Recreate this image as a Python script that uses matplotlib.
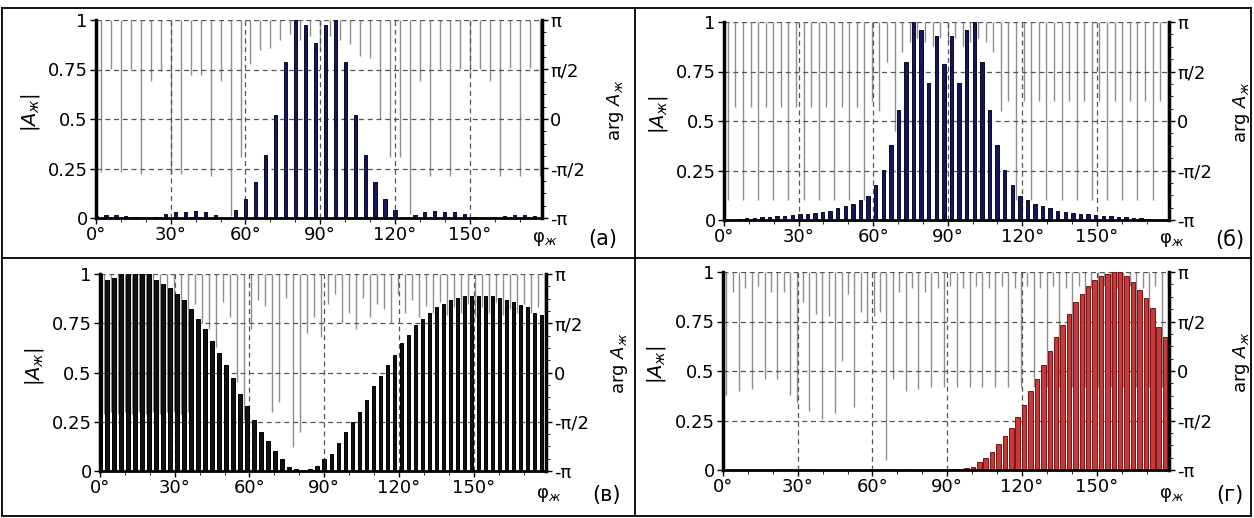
import numpy as np
import matplotlib.pyplot as plt
from matplotlib.lines import Line2D
from matplotlib.ticker import MultipleLocator

plt.rcParams['font.family'] = 'DejaVu Sans'
plt.rcParams['mathtext.fontset'] = 'dejavusans'

# ---- data: amplitude |A| and phase arg A (in units of pi) ----
# panel (а): 45 elements, step 4 deg
amp_a = [0.01, 0.015, 0.015, 0.01, 0.005, 0.0, 0.005, 0.02, 0.03, 0.03,
         0.035, 0.03, 0.015, 0.0, 0.04, 0.096, 0.18, 0.32, 0.52, 0.79,
         1.0, 0.975, 0.885, 0.975, 1.0, 0.79, 0.52, 0.32, 0.18, 0.096,
         0.04, 0.0, 0.015, 0.03, 0.035, 0.03, 0.03, 0.02, 0.005, 0.0,
         0.005, 0.01, 0.015, 0.015, 0.01]
phase_a = [-0.54, 0.5, -0.54, 0.5, -0.56, 0.38, 0.48, -0.56, -0.56, 0.44,
           0.44, -0.58, 0.38, -0.98, -0.38, 0.56, 0.7, 0.72, 0.8, 0.86,
           0.8, 0.84, 0.7, 0.84, 0.8, 0.76, 0.64, 0.62, 0.0, -0.38,
           -0.38, -0.96, 0.38, -0.58, 0.5, -0.58, 0.5, 0.44, 0.5, 0.38,
           -0.58, 0.52, -0.58, 0.52, -0.58]

# panel (б): 59 elements
amp_b = [0.0, 0.0, 0.005, 0.01, 0.01, 0.015, 0.015, 0.02, 0.02, 0.025,
         0.03, 0.03, 0.035, 0.04, 0.045, 0.06, 0.07, 0.08, 0.1, 0.12,
         0.176, 0.255, 0.378, 0.558, 0.8, 1.0, 0.96, 0.69, 0.93, 0.79,
         0.93, 0.69, 0.96, 1.0, 0.8, 0.558, 0.378, 0.255, 0.176, 0.12,
         0.1, 0.08, 0.07, 0.06, 0.045, 0.04, 0.035, 0.03, 0.03, 0.025,
         0.02, 0.02, 0.015, 0.015, 0.01, 0.01, 0.005, 0.0, 0.0]
phase_b = [-0.8, 0.14, -0.8, 0.14, -0.8, 0.14, -0.8, 0.14, -0.8, 0.14,
           -0.8, 0.14, -0.8, 0.14, -0.8, 0.14, -0.8, 0.14, -0.8, 0.2,
           0.1, 0.6, -0.1, 0.7, 0.8, 0.84, 0.8, 0.76, 0.84, 0.8,
           0.84, 0.76, 0.8, 0.84, 0.8, 0.7, 0.1, 0.2, -0.8, 0.2,
           -0.8, 0.2, -0.8, 0.2, -0.8, 0.2, -0.8, 0.2, -0.8, 0.2,
           -0.8, 0.2, -0.8, 0.2, -0.8, 0.2, -0.8, 0.2, -0.8]

# panel (в): 64 elements
amp_c = [1.0, 0.97, 0.98, 1.0, 1.0, 1.0, 1.0, 1.0, 0.97, 0.95,
         0.93, 0.9, 0.87, 0.82, 0.77, 0.72, 0.66, 0.6, 0.54, 0.47,
         0.39, 0.33, 0.26, 0.2, 0.15, 0.1, 0.06, 0.02, 0.01, 0.005,
         0.01, 0.025, 0.06, 0.085, 0.14, 0.2, 0.25, 0.3, 0.36, 0.43,
         0.48, 0.54, 0.59, 0.65, 0.69, 0.74, 0.77, 0.8, 0.83, 0.85,
         0.87, 0.88, 0.886, 0.89, 0.89, 0.886, 0.89, 0.88, 0.87, 0.86,
         0.845, 0.83, 0.8, 0.79]
phase_c = [-0.42, -0.4, -0.42, -0.4, -0.42, -0.4, -0.42, -0.4, -0.42, -0.4,
           -0.4, -0.42, -0.4, 0.7, 0.5, 0.44, 0.26, 0.72, 0.56, -0.1,
           -0.48, 0.44, 0.74, 0.68, -0.4, -0.3, 0.76, -0.76, -0.6, 0.4,
           0.56, 0.36, 0.7, 0.8, 0.5, 0.6, 0.44, 0.76, 0.56, 0.7,
           0.64, 0.5, 0.8, 0.6, 0.74, 0.56, 0.68, 0.6, 0.72, 0.58,
           0.66, 0.6, 0.7, 0.56, 0.66, 0.6, 0.72, 0.58, 0.64, 0.6,
           0.7, 0.6, 0.66, 0.6]

# panel (г): 70 elements
amp_d = [0.0, 0.0, 0.0, 0.0, 0.0, 0.0, 0.0, 0.0, 0.0, 0.0,
         0.0, 0.0, 0.0, 0.0, 0.0, 0.0, 0.0, 0.0, 0.0, 0.0,
         0.0, 0.0, 0.0, 0.0, 0.0, 0.0, 0.0, 0.0, 0.0, 0.0,
         0.0, 0.0, 0.0, 0.0, 0.0, 0.002, 0.003, 0.005, 0.01, 0.017,
         0.04, 0.06, 0.09, 0.13, 0.17, 0.21, 0.27, 0.33, 0.4, 0.46,
         0.53, 0.6, 0.67, 0.73, 0.79, 0.85, 0.89, 0.93, 0.96, 0.98,
         0.99, 1.0, 1.0, 0.98, 0.95, 0.91, 0.87, 0.82, 0.72, 0.67]
phase_d = [-0.24, 0.8, -0.2, 0.84, -0.18, 0.86, -0.08, 0.8, -0.08, 0.8,
           -0.24, -0.32, 0.7, -0.4, 0.58, -0.48, 0.56, -0.42, 0.1, 0.78,
           -0.36, 0.6, 0.5, 0.56, 0.6, -0.9, -0.08, 0.8, -0.2, 0.84,
           -0.18, 0.8, -0.16, 0.84, -0.16, 0.86, -0.16, 0.84, -0.16, 0.86,
           -0.16, 0.84, -0.16, 0.86, -0.16, 0.84, -0.16, 0.86, -0.16, 0.84,
           -0.16, 0.86, -0.16, 0.84, -0.16, 0.86, -0.16, 0.84, -0.16, 0.86,
           -0.16, 0.84, -0.16, 0.86, -0.16, 0.84, -0.16, 0.86, -0.16, 0.84]

x_ticks = [0, 30, 60, 90, 120, 150]
x_labels = ['0°', '30°', '60°', '90°', '120°', '150°']
y_ticks = [0, 0.25, 0.5, 0.75, 1]
y_labels = ['0', '0.25', '0.5', '0.75', '1']
ph_ticks = [-1, -0.5, 0, 0.5, 1]
ph_labels = ['-π', '-π/2', '0', 'π/2', 'π']

W, H = 1254, 518
FS = 13
fig = plt.figure(figsize=(W / 100, H / 100), dpi=100)


def px(x, y):
    return x / W, 1 - y / H


def panel(l, r, t, b, amp, phase, face, edge, bw, letter, lab_y):
    ax = fig.add_axes([l / W, 1 - b / H, (r - l) / W, (b - t) / H])
    ax2 = ax.twinx()
    ax.set_zorder(ax2.get_zorder() + 1)
    ax.patch.set_visible(False)

    n = len(amp)
    step = 180 / n
    x = np.arange(n) * step
    ax2.vlines(x + step / 2, phase, 1, color='#8e8e8e', lw=1.0)
    ax.bar(x, amp, width=bw * step, color=face, edgecolor=edge, lw=0.7, zorder=2)

    ax.set_xlim(0, 179)
    ax.set_ylim(0, 1)
    ax2.set_ylim(-1, 1)
    ax.set_xticks(x_ticks)
    ax.set_xticklabels(x_labels, fontsize=FS)
    ax.xaxis.set_minor_locator(MultipleLocator(10))
    ax.set_yticks(y_ticks)
    ax.set_yticklabels(y_labels, fontsize=FS)
    ax2.set_yticks(ph_ticks)
    ax2.set_yticklabels(ph_labels, fontsize=FS)
    ax2.yaxis.set_minor_locator(MultipleLocator(0.125))

    ax.set_axisbelow(True)
    ax.grid(True, color='#555555', lw=0.9, linestyle=(0, (4, 3)))
    ax.tick_params(direction='out', length=4, width=1, pad=2)
    ax.tick_params(axis='x', which='minor', length=3)
    ax2.tick_params(direction='out', length=4, width=1, pad=2)
    ax2.tick_params(which='minor', length=3)

    for s in ['top', 'right']:
        ax.spines[s].set_visible(False)
    for s in ['top', 'left', 'bottom']:
        ax2.spines[s].set_visible(False)
    ax.spines['left'].set_linewidth(2.5)
    ax.spines['bottom'].set_linewidth(2)
    ax2.spines['right'].set_linewidth(2.5)

    yc = (t + b) / 2 - 6
    fig.text(*px(l - 66, yc), r'$|A_{ж}|$', fontsize=FS + 1, rotation=90,
             ha='center', va='center')
    fig.text(*px(r + 73, yc - 3), r'$\mathrm{arg}\ A_{ж}$', fontsize=FS, rotation=90,
             ha='center', va='center')
    fig.text(*px(r + 3, lab_y), r'$\mathrm{φ}_{ж}$', fontsize=FS,
             ha='center', va='center')
    fig.text(*px(r + 61, lab_y), letter, fontsize=FS + 2,
             ha='center', va='center')
    return ax


panel(96, 542, 20, 218, amp_a, phase_a, '#16165a', '#080828', 0.32, '(а)', 239)
panel(724, 1169, 22, 220, amp_b, phase_b, '#16165a', '#080828', 0.45, '(б)', 240)
panel(100, 546, 274, 471, amp_c, phase_c, '#111111', '#000000', 0.5, '(в)', 495)
panel(723, 1169, 272, 470, amp_d, phase_d, '#c83a3a', '#7a1414', 0.7, '(г)', 495)

# cell borders
for (x0, y0, x1, y1) in [(2, 8, 1251, 8), (2, 516, 1251, 516), (2, 8, 2, 516),
                         (1251, 8, 1251, 516), (635, 8, 635, 516), (2, 258, 1251, 258)]:
    fig.add_artist(Line2D([x0 / W, x1 / W], [1 - y0 / H, 1 - y1 / H],
                          color='black', lw=1.3))

fig.savefig('out.png', dpi=100)
